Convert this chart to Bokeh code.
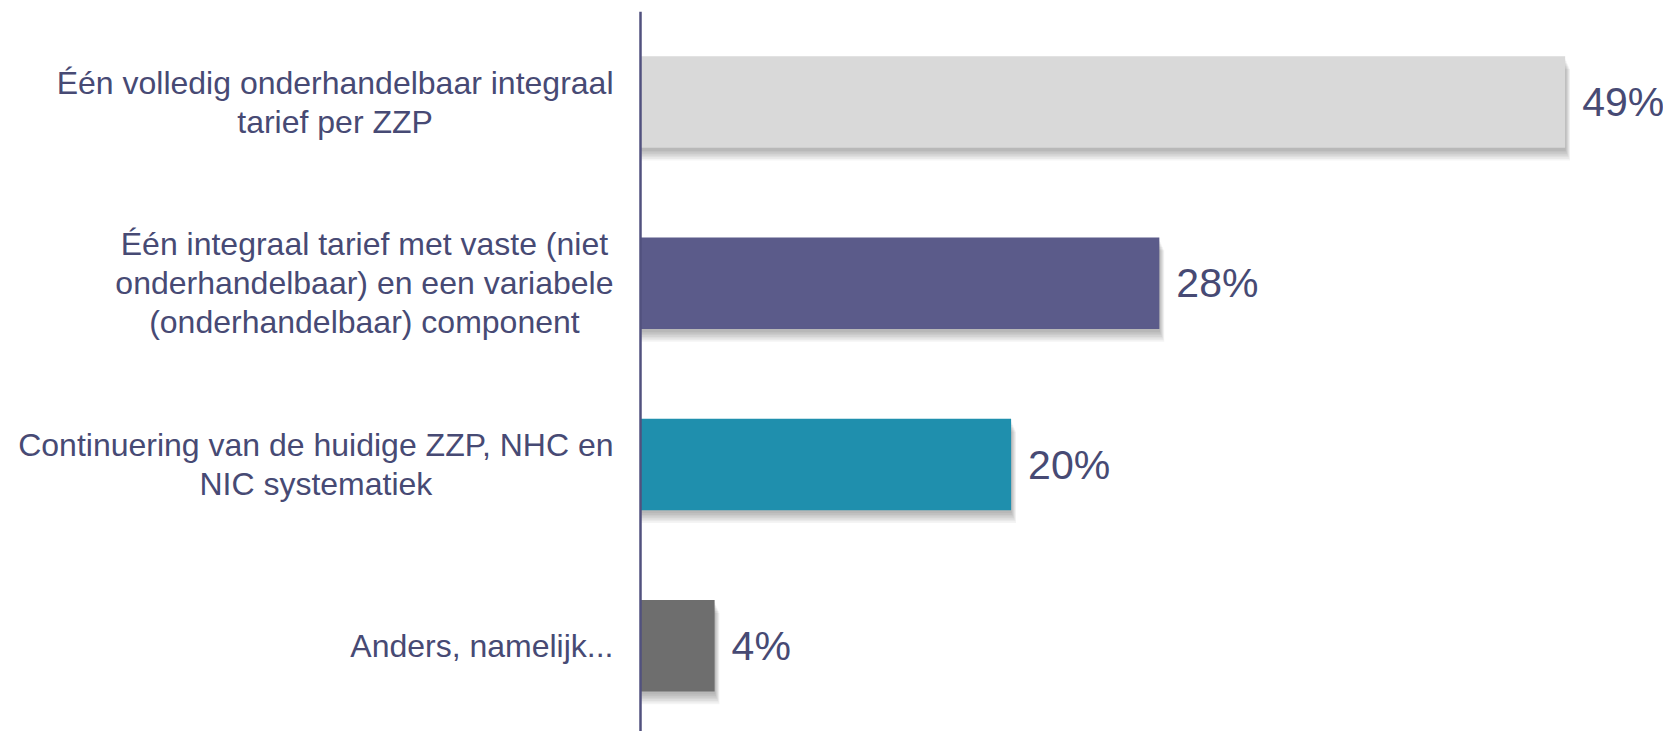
from bokeh.plotting import figure
from bokeh.models import Range1d, ColumnDataSource, Label, Span
from bokeh.embed import file_html
from bokeh.resources import INLINE
from bokeh.core.properties import value

# ---- data ----
categories = [
    "Één volledig onderhandelbaar integraal\ntarief per ZZP",
    "Één integraal tarief met vaste (niet\nonderhandelbaar) en een variabele\n(onderhandelbaar) component",
    "Continuering van de huidige ZZP, NHC en\nNIC systematiek",
    "Anders, namelijk...",
]
values = [49.9, 28.0, 20.0, 4.0]
value_labels = ["49%", "28%", "20%", "4%"]
bar_colors = ["#d9d9d9", "#5b5b8a", "#1f8fad", "#6e6e6e"]

# ---- layout ----
FIG_W, FIG_H = 1663, 731
AXIS_X, TOP = 640, 11
frame_h = FIG_H - TOP
px_per_unit_x = 18.53
px_per_band = 181.2
n = len(categories)
ys = [n - 1 - i for i in range(n)]
y_top = n - 0.5
y_bottom = y_top - frame_h / px_per_band

TEXT = "#474a74"
FONT = "Liberation Sans"

p = figure(width=FIG_W, height=FIG_H, output_backend="svg", toolbar_location=None,
           x_range=Range1d(-AXIS_X / px_per_unit_x, (FIG_W - AXIS_X) / px_per_unit_x),
           y_range=Range1d(y_bottom, y_top),
           min_border_left=0, min_border_right=0, min_border_top=TOP, min_border_bottom=0)
p.xaxis.visible = False
p.yaxis.visible = False
p.xgrid.visible = False
p.ygrid.visible = False
p.outline_line_color = None
p.background_fill_color = "white"
p.border_fill_color = "white"

src = ColumnDataSource(dict(y=ys, v=values, lab=value_labels, color=bar_colors))

# soft drop shadow
bar_h = 0.505
for k in range(1, 8):
    dy = (1.5 + k * 1.6) / px_per_band
    dx = (k * 0.7) / px_per_unit_x
    sh = ColumnDataSource(dict(y=[y - dy for y in ys], r=[v + dx for v in values]))
    p.hbar(y="y", right="r", left=0, height=bar_h, source=sh,
           fill_color="#000000", fill_alpha=0.045, line_color=None)

p.hbar(y="y", right="v", left=0, height=bar_h, source=src,
       fill_color="color", line_color=None)

p.text(x="v", y="y", text="lab", source=src, x_offset=17,
       text_font=value(FONT), text_font_size="41px", text_color=TEXT,
       text_baseline="middle", text_align="left")

# vertical category axis line
p.add_layout(Span(location=0, dimension="height", line_color="#51517e", line_width=2.5))

# category labels: right-anchored blocks with centred lines
for y, c in zip(ys, categories):
    p.add_layout(Label(x=0, y=y, x_offset=-27, text=c,
                       anchor="center_right", text_align="center",
                       text_baseline="middle", text_font=FONT,
                       text_font_size="32px", text_color=TEXT,
                       text_line_height=1.08))

open("out.html", "w").write(file_html(p, INLINE))
